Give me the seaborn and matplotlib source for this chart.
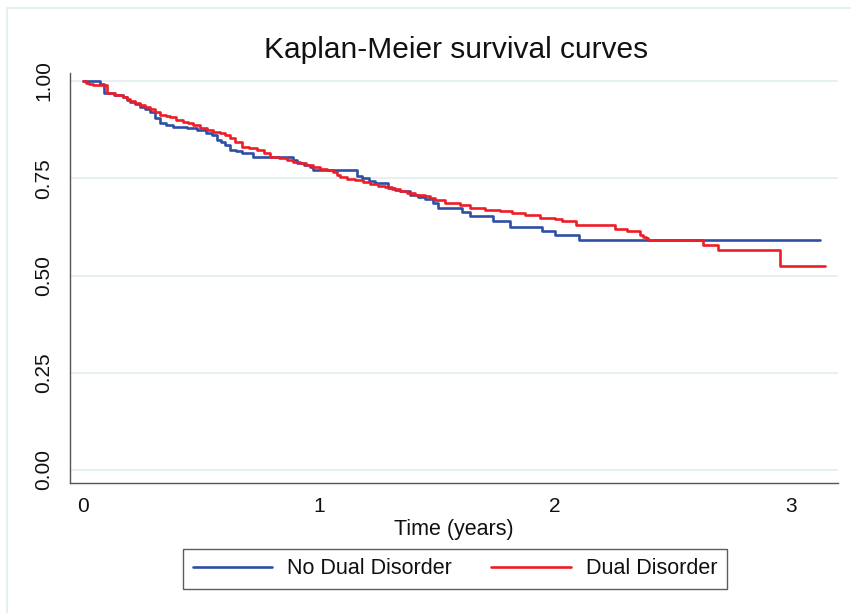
import numpy as np
import pandas as pd
import matplotlib
matplotlib.use("Agg")
import matplotlib.pyplot as plt
from matplotlib.lines import Line2D
import seaborn as sns

# ---- data ----
groups = ["No Dual Disorder", "Dual Disorder"]

time_no = [0.000, 0.072, 0.089, 0.130, 0.170, 0.185, 0.199, 0.220, 0.242, 0.262,
           0.284, 0.305, 0.326, 0.350, 0.381, 0.441, 0.483, 0.520, 0.547, 0.568,
           0.585, 0.602, 0.623, 0.650, 0.674, 0.720, 0.890, 0.907, 0.935, 0.962,
           0.975, 1.161, 1.182, 1.210, 1.237, 1.292, 1.320, 1.343, 1.385, 1.420,
           1.449, 1.483, 1.504, 1.606, 1.640, 1.737, 1.809, 1.945, 2.000, 2.102,
           3.123]
surv_no = [1.000, 0.993, 0.969, 0.964, 0.959, 0.952, 0.946, 0.940, 0.933, 0.927,
           0.920, 0.905, 0.892, 0.887, 0.882, 0.879, 0.874, 0.867, 0.861, 0.848,
           0.842, 0.836, 0.823, 0.819, 0.815, 0.805, 0.797, 0.790, 0.785, 0.779,
           0.771, 0.756, 0.750, 0.744, 0.738, 0.725, 0.721, 0.717, 0.707, 0.702,
           0.697, 0.686, 0.673, 0.663, 0.653, 0.640, 0.625, 0.614, 0.604, 0.591,
           0.591]

time_dd = [0.000, 0.012, 0.025, 0.042, 0.100, 0.135, 0.170, 0.185, 0.199, 0.220,
           0.242, 0.262, 0.284, 0.305, 0.326, 0.350, 0.369, 0.395, 0.424, 0.446,
           0.466, 0.495, 0.525, 0.550, 0.579, 0.600, 0.623, 0.645, 0.674, 0.705,
           0.737, 0.765, 0.792, 0.830, 0.864, 0.890, 0.919, 0.945, 0.975, 1.005,
           1.034, 1.060, 1.075, 1.089, 1.120, 1.153, 1.185, 1.216, 1.250, 1.280,
           1.310, 1.343, 1.375, 1.407, 1.449, 1.470, 1.492, 1.534, 1.597, 1.640,
           1.703, 1.767, 1.818, 1.873, 1.936, 2.000, 2.030, 2.089, 2.254, 2.305,
           2.360, 2.375, 2.385, 2.395, 2.627, 2.691, 2.953, 3.144]
surv_dd = [1.000, 0.995, 0.993, 0.990, 0.969, 0.964, 0.959, 0.954, 0.949, 0.944,
           0.938, 0.933, 0.928, 0.920, 0.913, 0.910, 0.907, 0.901, 0.895, 0.891,
           0.887, 0.880, 0.874, 0.870, 0.866, 0.860, 0.853, 0.842, 0.830, 0.827,
           0.823, 0.814, 0.805, 0.801, 0.797, 0.793, 0.789, 0.784, 0.779, 0.775,
           0.771, 0.766, 0.759, 0.752, 0.748, 0.745, 0.740, 0.735, 0.731, 0.727,
           0.722, 0.717, 0.712, 0.707, 0.704, 0.699, 0.694, 0.686, 0.681, 0.674,
           0.668, 0.666, 0.660, 0.656, 0.648, 0.645, 0.640, 0.630, 0.620, 0.614,
           0.605, 0.600, 0.596, 0.591, 0.578, 0.566, 0.524, 0.524]

x_ticks = [0, 1, 2, 3]
y_ticks = [0.00, 0.25, 0.50, 0.75, 1.00]
y_ticklabels = ["0.00", "0.25", "0.50", "0.75", "1.00"]

colors = {"No Dual Disorder": "#2F4FA5", "Dual Disorder": "#EE1D27"}

df = pd.concat([
    pd.DataFrame({"time": time_no, "surv": surv_no, "group": groups[0]}),
    pd.DataFrame({"time": time_dd, "surv": surv_dd, "group": groups[1]}),
], ignore_index=True)

# ---- style ----
sns.set_theme(style="white")
plt.rcParams["font.family"] = ["Liberation Sans", "DejaVu Sans"]

W, H = 851, 613
fig = plt.figure(figsize=(W / 100, H / 100), dpi=100)
fig.patch.set_facecolor("white")

left, right, bottom, top = 70, 838, 483, 73
ax = fig.add_axes([left / W, 1 - bottom / H, (right - left) / W, (bottom - top) / H])

sns.lineplot(data=df, x="time", y="surv", hue="group", hue_order=groups,
             palette=colors, drawstyle="steps-post", linewidth=1.9,
             estimator=None, sort=True, ax=ax, legend=False, zorder=3)

x0 = -13 / 236
x1 = (right - 83) / 236
ax.set_xlim(x0, x1)
y0 = -(bottom - 470) / 389
y1 = 1 + (81 - top) / 389
ax.set_ylim(y0, y1)

ax.set_xticks(x_ticks)
ax.set_xticklabels([str(t) for t in x_ticks], fontsize=15)
ax.set_yticks(y_ticks)
ax.set_yticklabels(y_ticklabels, fontsize=15, rotation=90, va="center")

ax.yaxis.grid(True, color="#E4F0F1", linewidth=1.4, zorder=0)
ax.xaxis.grid(False)
ax.set_axisbelow(True)

for s in ["top", "right"]:
    ax.spines[s].set_visible(False)
for s in ["left", "bottom"]:
    ax.spines[s].set_color("#555555")
    ax.spines[s].set_linewidth(1.0)

ax.tick_params(axis="both", which="major", direction="out", length=6,
               width=1.0, color="#555555", labelcolor="#111111")
ax.tick_params(axis="y", pad=6)
ax.tick_params(axis="x", pad=4)

ax.set_xlabel("Time (years)", fontsize=15.5, color="#111111", labelpad=2)
ax.set_ylabel("")

fig.text(456 / W, 1 - 50 / H, "Kaplan-Meier survival curves", fontsize=21.5,
         ha="center", va="center", color="#111111")

handles = [Line2D([0], [0], color=colors[g], lw=1.9) for g in groups]
leg = fig.legend(handles, groups, loc="center", bbox_to_anchor=(455 / W, 1 - 569 / H),
                 ncol=2, fontsize=15.5, frameon=True, fancybox=False,
                 handlelength=3.7, handletextpad=0.7, columnspacing=1.8,
                 borderpad=0.45, borderaxespad=0)
leg.get_frame().set_edgecolor("#333333")
leg.get_frame().set_linewidth(1.0)
for t in leg.get_texts():
    t.set_color("#111111")

# light outer frame
fig.add_artist(Line2D([7 / W, 7 / W], [0, 1 - 8 / H], color="#E3EFF0", lw=1.5,
                      transform=fig.transFigure))
fig.add_artist(Line2D([7 / W, 1], [1 - 8 / H, 1 - 8 / H], color="#E3EFF0", lw=1.5,
                      transform=fig.transFigure))

fig.savefig("out.png", dpi=100)
